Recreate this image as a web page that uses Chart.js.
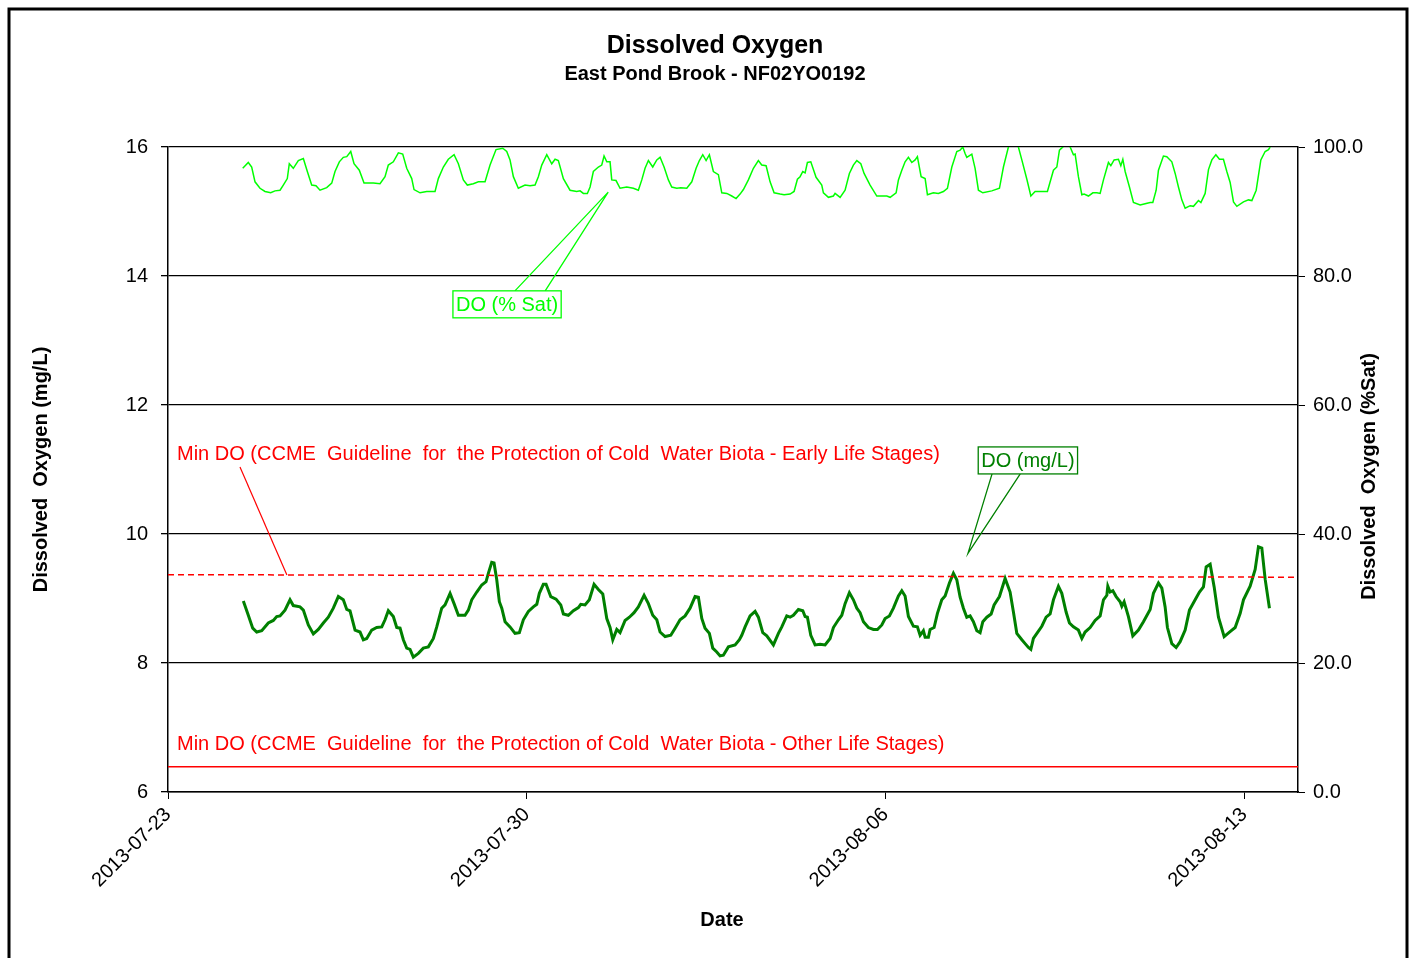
<!DOCTYPE html>
<html>
<head>
<meta charset="utf-8">
<title>Dissolved Oxygen</title>
<script src="https://cdn.jsdelivr.net/npm/chart.js@4.4.1/dist/chart.umd.min.js"></script>
<style>
  html, body { margin: 0; padding: 0; background: #fff; }
  canvas { display: block; }
</style>
</head>
<body>
<canvas id="doChart" width="1413" height="958"></canvas>
<script>
// x values are days after 2013-07-23 00:00
const startDate = Date.UTC(2013, 6, 23);
const xMin = 0;
const xMax = 22.05;
const dateTickStep = 7;

const leftTicks = [6, 8, 10, 12, 14, 16];      // mg/L
const rightTicks = [0, 20, 40, 60, 80, 100];   // % saturation

// DO (mg/L) readings: [day, mg/L]
const doMgL = [
  [1.470,8.96],[1.567,8.74],[1.653,8.54],[1.731,8.48],[1.829,8.50],[1.957,8.62],[2.055,8.66],[2.121,8.72],
  [2.186,8.73],[2.283,8.82],[2.381,8.98],[2.445,8.89],[2.576,8.87],[2.641,8.82],[2.738,8.59],[2.836,8.45],
  [2.933,8.52],[3.031,8.62],[3.128,8.71],[3.226,8.85],[3.324,9.03],[3.421,8.98],[3.488,8.83],[3.552,8.81],
  [3.650,8.51],[3.747,8.48],[3.812,8.36],[3.878,8.38],[3.975,8.51],[4.073,8.55],[4.171,8.56],[4.235,8.67],
  [4.299,8.81],[4.397,8.72],[4.463,8.55],[4.528,8.54],[4.592,8.36],[4.658,8.23],[4.723,8.21],[4.787,8.09],
  [4.885,8.15],[4.982,8.23],[5.080,8.25],[5.178,8.38],[5.244,8.56],[5.341,8.85],[5.406,8.90],[5.504,9.08],
  [5.582,8.92],[5.666,8.74],[5.796,8.74],[5.861,8.82],[5.927,8.98],[6.025,9.10],[6.122,9.21],[6.206,9.26],
  [6.251,9.39],[6.317,9.56],[6.362,9.55],[6.415,9.29],[6.466,8.95],[6.513,8.85],[6.577,8.64],[6.674,8.56],
  [6.772,8.46],[6.856,8.47],[6.934,8.67],[7.032,8.80],[7.129,8.87],[7.196,8.91],[7.246,9.08],[7.324,9.22],
  [7.377,9.22],[7.469,9.03],[7.572,8.99],[7.664,8.90],[7.715,8.76],[7.812,8.74],[7.910,8.81],[8.008,8.86],
  [8.054,8.91],[8.138,8.90],[8.222,8.98],[8.314,9.22],[8.398,9.14],[8.484,9.07],[8.562,8.69],[8.626,8.55],
  [8.679,8.36],[8.757,8.52],[8.821,8.47],[8.919,8.66],[9.003,8.71],[9.094,8.78],[9.178,8.87],[9.290,9.05],
  [9.374,8.92],[9.459,8.74],[9.538,8.67],[9.602,8.48],[9.700,8.41],[9.811,8.43],[9.895,8.54],[9.992,8.67],
  [10.090,8.73],[10.187,8.85],[10.285,9.03],[10.350,9.02],[10.416,8.69],[10.480,8.54],[10.564,8.46],[10.630,8.23],
  [10.708,8.17],[10.773,8.11],[10.837,8.12],[10.935,8.25],[11.066,8.28],[11.150,8.36],[11.196,8.43],[11.261,8.56],
  [11.358,8.73],[11.456,8.80],[11.520,8.71],[11.606,8.47],[11.684,8.42],[11.813,8.28],[11.911,8.46],[11.977,8.56],
  [12.074,8.73],[12.139,8.71],[12.203,8.74],[12.301,8.83],[12.387,8.81],[12.432,8.72],[12.477,8.71],[12.543,8.43],
  [12.627,8.28],[12.724,8.29],[12.822,8.28],[12.920,8.38],[12.984,8.55],[13.082,8.67],[13.148,8.74],[13.212,8.92],
  [13.296,9.09],[13.374,8.98],[13.441,8.85],[13.505,8.78],[13.570,8.64],[13.667,8.55],[13.765,8.52],[13.843,8.52],
  [13.929,8.59],[13.993,8.69],[14.077,8.73],[14.155,8.85],[14.253,9.04],[14.319,9.12],[14.383,9.04],[14.448,8.72],
  [14.545,8.57],[14.623,8.56],[14.676,8.43],[14.740,8.50],[14.774,8.40],[14.838,8.40],[14.871,8.52],[14.949,8.55],
  [15.014,8.77],[15.099,8.98],[15.164,9.04],[15.248,9.24],[15.326,9.39],[15.392,9.29],[15.457,9.02],[15.521,8.85],
  [15.587,8.71],[15.652,8.73],[15.716,8.64],[15.783,8.50],[15.847,8.47],[15.900,8.64],[15.978,8.71],[16.062,8.76],
  [16.120,8.90],[16.224,9.03],[16.335,9.31],[16.432,9.10],[16.497,8.79],[16.563,8.46],[16.661,8.36],[16.725,8.30],
  [16.790,8.24],[16.837,8.21],[16.887,8.38],[16.965,8.47],[17.051,8.57],[17.135,8.71],[17.213,8.76],[17.278,8.98],
  [17.375,9.19],[17.441,9.08],[17.525,8.79],[17.590,8.62],[17.668,8.56],[17.765,8.51],[17.832,8.38],[17.896,8.48],
  [17.994,8.55],[18.091,8.66],[18.189,8.73],[18.254,8.98],[18.320,9.05],[18.339,9.19],[18.384,9.10],[18.437,9.12],
  [18.501,9.03],[18.579,8.95],[18.612,8.88],[18.657,8.95],[18.741,8.72],[18.827,8.42],[18.936,8.51],[19.034,8.64],
  [19.165,8.83],[19.229,9.08],[19.327,9.24],[19.393,9.16],[19.457,8.87],[19.502,8.55],[19.588,8.30],[19.672,8.24],
  [19.750,8.33],[19.848,8.51],[19.932,8.82],[20.043,8.98],[20.127,9.10],[20.205,9.18],[20.258,9.49],[20.336,9.53],
  [20.414,9.18],[20.498,8.71],[20.609,8.41],[20.713,8.48],[20.824,8.55],[20.922,8.77],[20.986,8.98],[21.116,9.19],
  [21.214,9.45],[21.278,9.80],[21.344,9.78],[21.409,9.30],[21.493,8.85]
];

// DO (% Sat) readings: [day, % saturation]
const doSat = [
  [1.458,96.7],[1.567,97.6],[1.633,96.9],[1.698,94.6],[1.795,93.6],[1.893,93.1],[2.004,92.9],[2.088,93.2],
  [2.186,93.3],[2.250,94.1],[2.328,95.1],[2.367,97.4],[2.445,96.7],[2.543,97.9],[2.641,98.2],[2.719,96.2],
  [2.804,94.1],[2.888,94.0],[2.966,93.3],[3.097,93.7],[3.195,94.4],[3.259,96.2],[3.343,97.7],[3.421,98.4],
  [3.488,98.5],[3.566,99.3],[3.630,97.4],[3.733,96.4],[3.825,94.4],[4.007,94.4],[4.137,94.3],[4.235,95.4],
  [4.299,97.2],[4.397,97.7],[4.495,99.1],[4.580,98.9],[4.658,96.7],[4.756,95.1],[4.801,93.4],[4.918,92.9],
  [5.049,93.1],[5.211,93.1],[5.275,95.1],[5.373,96.9],[5.470,98.1],[5.582,98.8],[5.666,97.4],[5.763,94.9],
  [5.841,94.1],[5.958,94.3],[6.056,94.6],[6.187,94.6],[6.284,97.2],[6.401,99.6],[6.532,99.8],[6.610,99.3],
  [6.674,98.0],[6.739,95.4],[6.836,93.6],[6.967,94.1],[7.065,94.0],[7.162,94.1],[7.227,95.4],[7.293,97.2],
  [7.391,98.8],[7.488,97.4],[7.553,98.1],[7.617,97.9],[7.715,95.1],[7.845,93.3],[7.976,93.1],[8.041,93.2],
  [8.105,92.8],[8.183,92.8],[8.236,93.8],[8.300,96.2],[8.398,96.9],[8.464,97.2],[8.509,98.6],[8.562,97.7],
  [8.626,97.7],[8.659,94.9],[8.743,94.8],[8.821,93.6],[8.952,93.8],[9.081,93.6],[9.178,93.3],[9.245,94.9],
  [9.309,96.7],[9.374,97.9],[9.459,96.9],[9.538,98.0],[9.602,98.4],[9.680,96.9],[9.764,94.9],[9.830,93.8],
  [9.928,93.6],[10.006,93.7],[10.123,93.6],[10.221,94.6],[10.305,96.7],[10.369,97.9],[10.435,98.8],[10.500,97.9],
  [10.564,98.8],[10.642,96.2],[10.740,95.7],[10.806,92.9],[10.904,92.8],[11.001,92.4],[11.085,92.0],[11.163,92.7],
  [11.228,93.4],[11.325,94.9],[11.423,96.7],[11.520,97.9],[11.586,97.2],[11.671,97.1],[11.749,94.6],[11.827,92.9],
  [11.944,92.7],[12.022,92.6],[12.139,92.7],[12.217,93.1],[12.282,95.0],[12.334,95.4],[12.387,96.2],[12.432,96.0],
  [12.477,97.6],[12.543,97.7],[12.646,95.3],[12.757,94.1],[12.789,92.9],[12.887,92.2],[12.984,92.4],[13.017,92.8],
  [13.115,92.2],[13.212,93.3],[13.296,95.9],[13.374,97.2],[13.441,97.9],[13.519,97.4],[13.583,95.9],[13.700,94.1],
  [13.831,92.4],[14.026,92.4],[14.091,92.2],[14.208,92.9],[14.253,94.9],[14.319,96.4],[14.383,97.7],[14.448,98.4],
  [14.514,97.6],[14.579,98.0],[14.623,98.5],[14.696,95.4],[14.774,95.1],[14.819,92.6],[14.935,92.9],[15.033,92.8],
  [15.131,93.1],[15.209,93.6],[15.295,96.9],[15.392,99.3],[15.457,99.5],[15.509,100.0],[15.554,99.0],[15.587,98.4],
  [15.685,98.9],[15.749,96.7],[15.814,93.3],[15.900,92.9],[16.075,93.2],[16.224,93.6],[16.302,96.9],[16.399,100.0],
  [16.491,102.0],[16.594,100.0],[16.661,98.0],[16.759,95.0],[16.837,92.4],[16.920,93.1],[17.160,93.1],[17.278,96.4],
  [17.344,96.9],[17.395,99.5],[17.461,100.0],[17.525,101.0],[17.604,100.0],[17.668,98.8],[17.701,98.9],[17.765,95.4],
  [17.832,92.6],[17.877,92.7],[17.961,92.4],[18.047,92.9],[18.125,92.9],[18.189,92.8],[18.254,94.9],[18.351,97.6],
  [18.398,97.1],[18.462,98.0],[18.546,98.1],[18.593,97.1],[18.632,98.1],[18.677,96.2],[18.761,93.8],[18.839,91.4],
  [18.970,91.0],[19.067,91.2],[19.165,91.4],[19.217,91.4],[19.282,93.3],[19.327,96.4],[19.424,98.6],[19.490,98.5],
  [19.588,97.7],[19.653,95.9],[19.717,93.8],[19.783,91.8],[19.848,90.5],[19.946,90.9],[20.010,90.8],[20.108,91.7],
  [20.155,91.4],[20.238,92.8],[20.303,96.5],[20.369,98.0],[20.447,98.8],[20.517,98.1],[20.595,98.1],[20.661,96.2],
  [20.726,94.5],[20.791,91.5],[20.857,90.8],[20.986,91.5],[21.083,91.8],[21.150,91.7],[21.234,93.3],[21.325,98.0],
  [21.409,99.3],[21.474,99.6],[21.507,100.0]
];

// CCME minimum DO guidelines (mg/L), [day, mg/L]
const minEarlyLife = [[0, 9.37], [22.05, 9.33]];
const minOtherLife = [[0, 6.39], [22.05, 6.39]];

const toPoints = rows => rows.map(r => ({x: r[0], y: r[1]}));

function dayLabel(v) {
  return new Date(startDate + v * 86400000).toISOString().slice(0, 10);
}

// text boxes and callouts, positions in data units (day, mg/L)
const notes = {
  sat: {text: 'DO (% Sat)', color: '#00FF00', left: 5.56, top: 13.77, base: [6.77, 7.36], tip: [8.59, 15.30]},
  mg: {text: 'DO (mg/L)', color: '#008000', left: 15.81, top: 11.35, base: [16.08, 16.63], tip: [15.61, 9.70]},
  early: {text: 'Min DO (CCME  Guideline  for  the Protection of Cold  Water Biota - Early Life Stages)', left: 0.176, mid: 11.24, from: [1.405, 11.04], to: [2.32, 9.365]},
  other: {text: 'Min DO (CCME  Guideline  for  the Protection of Cold  Water Biota - Other Life Stages)', left: 0.176, mid: 6.744}
};

const notesPlugin = {
  id: 'notes',
  afterDatasetsDraw(chart) {
    const ctx = chart.ctx;
    const x = chart.scales.x, y = chart.scales.y;
    const px = d => x.getPixelForValue(d);
    const py = v => y.getPixelForValue(v);
    ctx.save();
    ctx.font = "20px 'Liberation Sans', Arial, sans-serif";
    ctx.textBaseline = 'middle';
    ctx.textAlign = 'left';

    // callout boxes
    ['sat', 'mg'].forEach(k => {
      const n = notes[k];
      const l = px(n.left), t = py(n.top);
      const w = ctx.measureText(n.text).width + 6;
      const h = 27;
      ctx.strokeStyle = n.color;
      ctx.lineWidth = 1.3;
      const baseY = n.tip[1] > n.top ? t : t + h;
      ctx.beginPath();
      ctx.moveTo(px(n.base[0]), baseY);
      ctx.lineTo(px(n.tip[0]), py(n.tip[1]));
      ctx.lineTo(px(n.base[1]), baseY);
      ctx.stroke();
      ctx.fillStyle = '#fff';
      ctx.fillRect(l, t, w, h);
      ctx.strokeRect(l, t, w, h);
      ctx.fillStyle = n.color;
      ctx.fillText(n.text, l + 3, t + h / 2 + 1);
    });

    // guideline labels
    ctx.fillStyle = '#FF0000';
    ctx.fillText(notes.early.text, px(notes.early.left), py(notes.early.mid));
    ctx.fillText(notes.other.text, px(notes.other.left), py(notes.other.mid));
    ctx.strokeStyle = '#FF0000';
    ctx.lineWidth = 1.2;
    ctx.beginPath();
    ctx.moveTo(px(notes.early.from[0]), py(notes.early.from[1]));
    ctx.lineTo(px(notes.early.to[0]), py(notes.early.to[1]));
    ctx.stroke();
    ctx.restore();
  },
  afterDraw(chart) {
    const ctx = chart.ctx;
    const area = chart.chartArea;
    ctx.save();
    // right axis title, read bottom to top like the left one
    ctx.fillStyle = '#000';
    ctx.font = "bold 20px 'Liberation Sans', Arial, sans-serif";
    ctx.textAlign = 'center';
    ctx.textBaseline = 'middle';
    ctx.translate(1369, (area.top + area.bottom) / 2 + 7);
    ctx.rotate(-Math.PI / 2);
    ctx.fillText('Dissolved  Oxygen (%Sat)', 0, 0);
    ctx.setTransform(1, 0, 0, 1, 0, 0);
    // x axis title
    ctx.fillText('Date', 722, 920);
    // outer frame
    ctx.strokeStyle = '#000';
    ctx.lineWidth = 3;
    ctx.strokeRect(9, 9, 1398, 980);
    ctx.restore();
  }
};

Chart.defaults.font.family = "'Liberation Sans', Arial, sans-serif";
Chart.defaults.color = '#000';

new Chart(document.getElementById('doChart').getContext('2d'), {
  type: 'line',
  data: {
    datasets: [
      {
        label: 'Min DO Early Life Stages',
        data: toPoints(minEarlyLife),
        yAxisID: 'y',
        borderColor: '#FF0000',
        borderWidth: 1.5,
        borderDash: [6, 4],
        pointRadius: 0
      },
      {
        label: 'Min DO Other Life Stages',
        data: toPoints(minOtherLife),
        yAxisID: 'y',
        borderColor: '#FF0000',
        borderWidth: 1.5,
        pointRadius: 0
      },
      {
        label: 'DO (mg/L)',
        data: toPoints(doMgL),
        yAxisID: 'y',
        borderColor: '#008000',
        borderWidth: 3,
        pointRadius: 0
      },
      {
        label: 'DO (% Sat)',
        data: toPoints(doSat),
        yAxisID: 'y2',
        borderColor: '#00FF00',
        borderWidth: 1.5,
        pointRadius: 0
      }
    ]
  },
  options: {
    responsive: false,
    animation: false,
    devicePixelRatio: 1,
    layout: { padding: { top: 0, left: 20, right: 3, bottom: 0 } },
    plugins: {
      legend: { display: false },
      tooltip: { enabled: false },
      title: {
        display: true,
        text: 'Dissolved Oxygen',
        color: '#000',
        font: { size: 25, weight: 'bold' },
        padding: { top: 31, bottom: 0 }
      },
      subtitle: {
        display: true,
        text: 'East Pond Brook - NF02YO0192',
        color: '#000',
        font: { size: 20, weight: 'bold' },
        padding: { top: 1, bottom: 61 }
      }
    },
    scales: {
      x: {
        type: 'linear',
        min: xMin,
        max: xMax,
        afterFit: s => { s.height = 166; },
        ticks: {
          stepSize: dateTickStep,
          includeBounds: false,
          minRotation: 45,
          maxRotation: 45,
          padding: 4,
          font: { size: 20 },
          callback: v => dayLabel(v)
        },
        grid: { drawOnChartArea: false, tickLength: 7, color: '#000' },
        border: { color: '#000', width: 1.5 },
        title: { display: false }
      },
      y: {
        position: 'left',
        min: leftTicks[0],
        max: leftTicks[leftTicks.length - 1],
        afterFit: s => { s.width = 148; },
        afterBuildTicks: s => { s.ticks = leftTicks.map(v => ({value: v})); },
        ticks: { padding: 13, font: { size: 20 } },
        grid: { color: '#000', lineWidth: 1.3, tickLength: 7 },
        border: { color: '#000', width: 1.5 },
        title: {
          display: true,
          text: 'Dissolved  Oxygen (mg/L)',
          font: { size: 20, weight: 'bold' },
          padding: { top: 9, bottom: 0 }
        }
      },
      y2: {
        position: 'right',
        min: rightTicks[0],
        max: rightTicks[rightTicks.length - 1],
        afterFit: s => { s.width = 112; },
        afterBuildTicks: s => { s.ticks = rightTicks.map(v => ({value: v})); },
        ticks: { padding: 8, font: { size: 20 }, callback: v => v.toFixed(1) },
        grid: { drawOnChartArea: false, color: '#000', tickLength: 7 },
        border: { color: '#000', width: 1.5 },
        title: { display: false }
      }
    }
  },
  plugins: [notesPlugin]
});
</script>
</body>
</html>
